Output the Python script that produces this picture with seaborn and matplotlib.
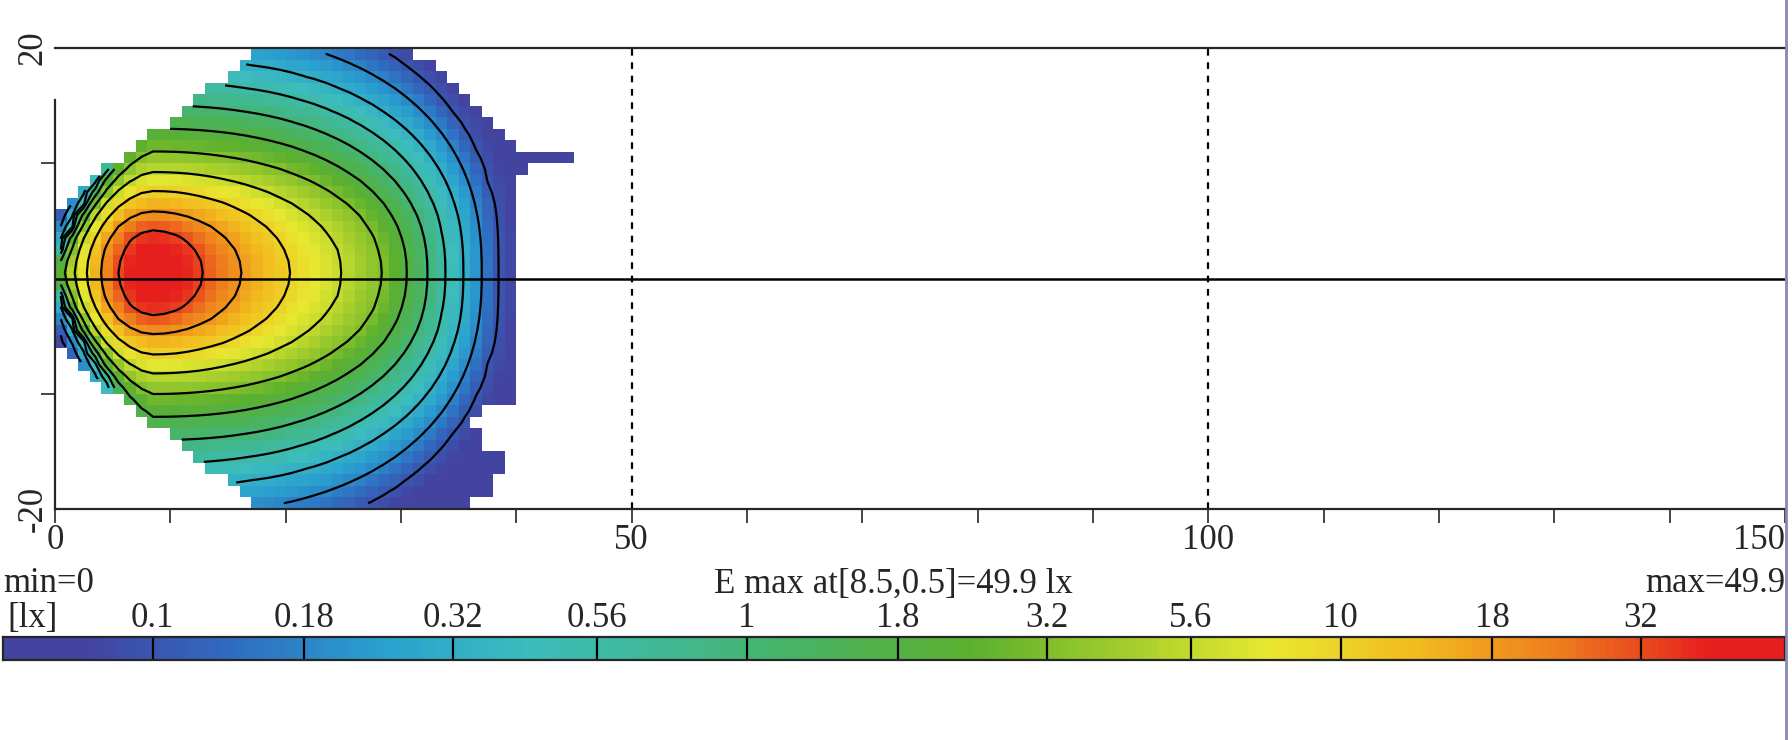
import numpy as np
import matplotlib
matplotlib.use("Agg")
import matplotlib.pyplot as plt
import seaborn as sns
from matplotlib.colors import LinearSegmentedColormap, LogNorm

sns.set_style("white")
plt.rcParams['font.family'] = ['Liberation Serif', 'DejaVu Serif']
plt.rcParams['axes.unicode_minus'] = False

# ---- data ----
e_max = 49.9
peak_x, peak_y = 8.5, 0.5
levels = [32, 18, 10, 5.6, 3.2, 1.8, 1, 0.56, 0.32, 0.18, 0.1]
bar_labels = ["0.1", "0.18", "0.32", "0.56", "1", "1.8", "3.2", "5.6", "10", "18", "32"]
# distance of each contour from the peak (m), read along the axes
dist_right = [4.3, 7.7, 11.9, 16.4, 19.9, 22.0, 23.8, 25.3, 26.9, 28.5, 29.9]
dist_left = [3.0, 4.6, 5.7, 6.8, 7.6, 8.3, 8.7, 9.1, 9.5, 9.9, 10.3]
dist_side = [3.8, 5.3, 7.1, 8.7, 10.5, 12.5, 14.5, 16.5, 18.5, 21.0, 23.5]
# roundness of each contour (2 = ellipse, 1 = straight diagonal, >2 = boxy)
shape_left = [2.0, 2.0, 1.8, 1.6, 1.4, 1.25, 1.1, 1.0, 1.0, 1.0, 1.0]
shape_right = [2.0, 2.0, 2.0, 2.05, 2.15, 2.25, 2.3, 2.35, 2.4, 2.4, 2.4]
bin_colors = ["#4343a0", "#2f6cc0", "#2aa0d0", "#3cbcbc", "#40b890", "#4ab25a",
              "#5cb02e", "#a0cc2c", "#e8e830", "#f2bb1e", "#ee7a1e", "#e61e1e"]
# right edge (x) of lit area for each 1 m row, y from -20 to 19
row_y = list(range(-20, 20))
row_xmax = [36, 38, 38, 39, 39, 37, 37, 36, 37, 40, 40, 40, 40, 40, 40, 40, 40, 40, 40, 40,
            40, 40, 40, 40, 40, 40, 40, 40, 40, 41, 45, 40, 39, 38, 37, 36, 35, 34, 33, 31]

# ---- field on a 1 m grid ----
xe = np.arange(0, 151, 1.0)
ye = np.arange(-20, 21, 1.0)
xc = xe[:-1] + 0.5
yc = ye[:-1] + 0.5
X, Y = np.meshgrid(xc, yc)
DX = X - peak_x
DY = np.abs(Y - peak_y)
L = np.log10(levels)
R = []
for k in range(len(levels)):
    p = np.where(DX >= 0, shape_right[k], shape_left[k])
    a = np.where(DX >= 0, dist_right[k], dist_left[k])
    R.append(((np.abs(DX) / a) ** p + (DY / dist_side[k]) ** p) ** (1 / p))
R = np.array(R)
logE = np.log10(e_max) - (np.log10(e_max) - L[0]) * np.minimum(R[0], 1) ** 2
for k in range(1, len(levels)):
    sel = (R[k - 1] >= 1) & (R[k] < 1)
    f = np.log(R[k - 1]) / (np.log(R[k - 1]) - np.log(R[k]))
    logE = np.where(sel, L[k - 1] + f * (L[k] - L[k - 1]), logE)
out = R[-1] >= 1
logE = np.where(out, L[-1] - 2.5 * np.log(np.maximum(R[-1], 1)), logE)
E = 10 ** logE

mask = np.zeros_like(E, dtype=bool)
for i, yy in enumerate(row_y):
    xmin = max(0.0, (abs(yy + 0.5) - 6) * 18 / 14)
    mask[i] = (xc < xmin) | (xc > row_xmax[i])
Em = np.ma.masked_array(E, mask)

nb = len(bin_colors)
anchors = [(0.0, bin_colors[0])] + [((i + 0.5) / nb, c) for i, c in enumerate(bin_colors)] + [(1.0, bin_colors[-1])]
cmap = LinearSegmentedColormap.from_list("lx", anchors)
norm = LogNorm(0.056, 56)
FS = 25

fig = plt.figure(figsize=(17.92, 7.4), dpi=100)
ax = fig.add_axes([55 / 1792, 1 - 509 / 740, 1730 / 1792, 461 / 740])
ax.pcolormesh(xe, ye, Em, cmap=cmap, norm=norm)
ax.contour(xc, yc, Em, levels=sorted(levels), colors="black", linewidths=1.6)
ax.set_xlim(0, 150)
ax.set_ylim(-20, 20)
ax.spines["right"].set_visible(False)
ax.spines["left"].set_bounds(-20, 15.5)
for s in ["top", "bottom", "left"]:
    ax.spines[s].set_linewidth(1.6)
ax.axhline(0, color="black", lw=1.8)
for xv in [50, 100]:
    ax.axvline(xv, color="black", lw=1.6, ls=(0, (3, 3)))
ax.set_xticks([0, 50, 100, 150])
ax.set_xticks(np.arange(0, 151, 10), minor=True)
ax.set_yticks([-20, 20])
ax.set_yticks([-10, 10], minor=True)
ax.tick_params(axis="x", which="both", direction="out", length=10, width=1.2, labelsize=FS, pad=1)
ax.tick_params(axis="y", which="major", length=0, labelsize=FS, pad=4)
ax.tick_params(axis="y", which="minor", direction="out", length=10, width=1.2)
ax.tick_params(bottom=True, left=True)
ax.tick_params(which="minor", bottom=True, left=True)
for lab in ax.get_yticklabels():
    lab.set_rotation(90)
    lab.set_va("center")
ax.get_xticklabels()[-1].set_ha("right")

ty = 1 - 584 / 740
fig.text(3 / 1792, ty, "min=0", fontsize=FS, va="center", ha="left")
fig.text(893 / 1792, ty, "E max at[8.5,0.5]=49.9 lx", fontsize=FS, va="center", ha="center")
fig.text(1785 / 1792, ty, "max=49.9", fontsize=FS, va="center", ha="right")

# ---- colour bar ----
cax = fig.add_axes([3 / 1792, 1 - 660 / 740, 1782 / 1792, 23 / 740])
bedges = np.logspace(np.log10(0.056), np.log10(56), 240)
cax.pcolormesh(bedges, [0, 1], bedges[:-1][None, :], cmap=cmap, norm=norm)
cax.set_xscale("log")
cax.set_xlim(0.056, 56)
cax.set_ylim(0, 1)
bar_levels = sorted(levels)
for lv in bar_levels:
    cax.axvline(lv, color="black", lw=1.6)
cax.set_xticks([]); cax.set_yticks([])
cax.minorticks_off()
for s in cax.spines.values():
    s.set_linewidth(1.6)
cax.text(0.057, 1.1, "[lx]", fontsize=FS, va="bottom", ha="left")
for lv, lab in zip(bar_levels, bar_labels):
    cax.text(lv, 1.1, lab, fontsize=FS, va="bottom", ha="center")

fig.add_artist(plt.Line2D([1786 / 1792] * 2, [0, 1], color="#8888b0", lw=2))
fig.savefig("out.png", dpi=100, facecolor="white")
